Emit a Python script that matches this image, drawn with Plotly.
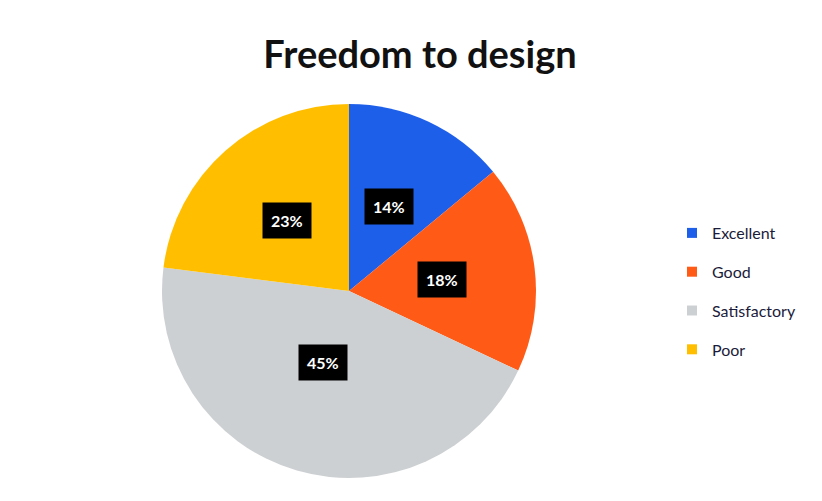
import math
import plotly.graph_objects as go

categories = ["Excellent", "Good", "Satisfactory", "Poor"]
values = [14, 18, 45, 23]
colors = ["#1E5FEA", "#FF5B17", "#CDD0D2", "#FFBF00"]
title_text = "Freedom to design"

OFF = 8  # page body margin
W, H = 822 - OFF, 501 - OFF
# pie placement (screen pixels)
left, right, top, bottom = 160 - OFF, 538 - OFF, 104 - OFF, 478 - OFF
cx, cy = (left + right) / 2, (top + bottom) / 2
radius = min(right - left, bottom - top) / 2

fig = go.Figure()
fig.add_trace(go.Pie(
    labels=categories, values=values, sort=False, direction="clockwise", rotation=0,
    marker=dict(colors=colors, line=dict(width=0)),
    textinfo="none", hoverinfo="label+percent", showlegend=False,
    domain=dict(x=[left / W, right / W], y=[1 - bottom / H, 1 - top / H]),
))

# legend entries via dummy traces
for c, col in zip(categories, colors):
    fig.add_trace(go.Scatter(
        x=[None], y=[None], mode="markers", name=c, legendgroup=c,
        marker=dict(symbol="square", size=10, color=col),
    ))

# percentage labels with black boxes at slice mid-angles
total = sum(values)
cum = 0
for v in values:
    mid = (cum + v / 2) / total * 2 * math.pi
    cum += v
    px = cx + 0.5 * radius * math.sin(mid)
    py = cy - 0.5 * radius * math.cos(mid)
    fig.add_annotation(
        x=px / W, y=1 - py / H, xref="paper", yref="paper",
        text=f"<b>{round(v / total * 100)}%</b>", showarrow=False,
        font=dict(family="Lato, Open Sans, sans-serif", size=16, color="white"),
        bgcolor="black", borderpad=8,
    )

fig.update_layout(
    width=W, height=H, margin=dict(l=0, r=0, t=0, b=0),
    paper_bgcolor="white", plot_bgcolor="white",
    title=dict(text=f"<b>{title_text}</b>", x=(420 - OFF) / W, xanchor="center",
               y=1 - (55 - OFF) / H, yanchor="middle",
               font=dict(family="Lato, Open Sans, sans-serif", size=38, color="#111111")),
    xaxis=dict(visible=False), yaxis=dict(visible=False),
    legend=dict(x=(672 - OFF) / W, y=1 - (216 - OFF) / H, xanchor="left", yanchor="top",
                font=dict(family="Lato, Open Sans, sans-serif", size=16, color="#1b1b3a"),
                tracegroupgap=15, itemwidth=30, bgcolor="rgba(0,0,0,0)"),
)

fig.write_html("out.html")
